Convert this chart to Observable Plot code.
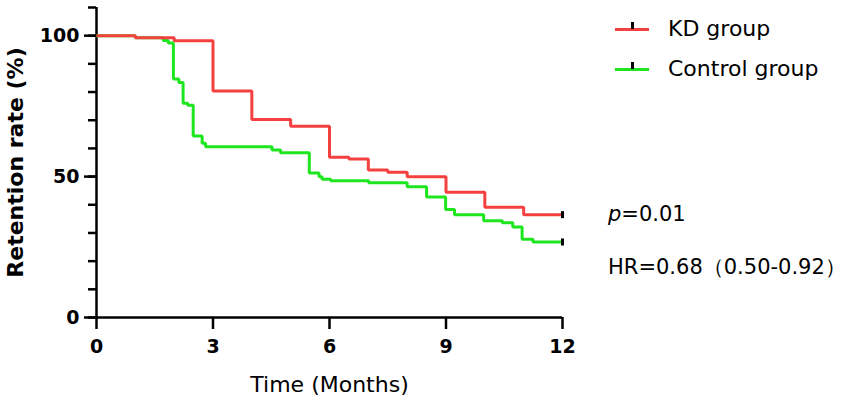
<!DOCTYPE html>
<html>
<head>
<meta charset="utf-8">
<script src="https://cdn.jsdelivr.net/npm/d3@7"></script>
<script src="https://cdn.jsdelivr.net/npm/@observablehq/plot@0.6"></script>
<style>
  html, body { margin: 0; padding: 0; background: #fff; }
  #wrap { position: relative; width: 851px; height: 407px; font-family: "DejaVu Sans", sans-serif; }
  #wrap svg { position: absolute; left: 0; top: 0; }
  g[aria-label="x-axis label"], g[aria-label="x-axis label"] text { font-weight: normal; font-size: 22px; }
  g[aria-label="y-axis label"], g[aria-label="y-axis label"] text { font-weight: bold; font-size: 22px; }
  .lg { position: absolute; left: 615px; height: 20px; display: flex; align-items: center; }
  .lg span { position: absolute; left: 53px; white-space: nowrap; font-size: 22px; color: #000; line-height: 22px; top: -1px; }
  .ann { position: absolute; left: 608px; white-space: nowrap; font-size: 21px; color: #000; line-height: 24px; }
</style>
</head>
<body>
<div id="wrap"></div>
<script>
// ---- data ----
const seriesNames = ["KD group", "Control group"];
const seriesColors = ["#f54040", "#1ee61e"];

const kdTime = [0, 1, 2, 3, 4, 5, 6, 6.5, 7, 7.5, 8, 9, 10, 11, 12];
const kdRetention = [100, 99.3, 98.2, 80.4, 70.3, 67.9, 56.9, 56.2, 52.3, 51.5, 49.9, 44.4, 39.1, 36.5, 36.5];

const ctrlTime = [0, 1, 1.72, 1.85, 1.98, 2.12, 2.23, 2.35, 2.49, 2.72, 2.81, 4.52, 4.74, 5.48, 5.73, 5.81, 6.03, 7.01, 8.0, 8.5, 8.99, 9.22, 9.97, 10.45, 10.72, 10.96, 11.24, 12];
const ctrlRetention = [100, 99.3, 98.3, 97.4, 84.6, 83.4, 76.0, 75.3, 64.4, 61.8, 60.6, 59.4, 58.5, 51.3, 49.9, 49.1, 48.5, 47.8, 46.4, 42.8, 38.3, 36.5, 34.3, 33.6, 32.1, 27.8, 26.8, 26.8];

const xTicks = [0, 3, 6, 9, 12];
const yMajorTicks = [0, 50, 100];
const yMinorTicks = [0, 10, 20, 30, 40, 50, 60, 70, 80, 90, 100, 110];
const xDomain = [0, 12];
const yDomain = [0, 110];

const pText = "=0.01";
const hrText = "HR=0.68（0.50-0.92）";

// ---- build tables ----
const kd = kdTime.map((t, i) => ({t, v: kdRetention[i]}));
const ctrl = ctrlTime.map((t, i) => ({t, v: ctrlRetention[i]}));
const censored = [kd[kd.length - 1], ctrl[ctrl.length - 1]];

const censorSymbol = {
  draw(context) {
    context.rect(-1.5, -3.5, 3, 7);
  }
};

const chart = Plot.plot({
  width: 851,
  height: 407,
  marginLeft: 96,
  marginRight: 289,
  marginTop: 7,
  marginBottom: 90,
  style: {fontFamily: "DejaVu Sans, sans-serif", background: "transparent", color: "#000"},
  x: {domain: xDomain},
  y: {domain: yDomain},
  marks: [
    Plot.axisY(yMinorTicks, {tickSize: 8, strokeWidth: 2.5, fill: "none", label: null}),
    Plot.axisY(yMajorTicks, {tickSize: 12, tickPadding: 5, strokeWidth: 2.5, fontSize: 19, fontWeight: "bold",
      label: "Retention rate (%)", labelArrow: "none", labelAnchor: "center", labelOffset: 89}),
    Plot.axisX(xTicks, {tickSize: 12, tickPadding: 10, strokeWidth: 2.5, fontSize: 19, fontWeight: "bold",
      label: "Time (Months)", labelArrow: "none", labelAnchor: "center", labelOffset: 74}),
    Plot.ruleX([xDomain[0]], {y1: yDomain[0], y2: yDomain[1], strokeWidth: 2.5}),
    Plot.ruleY([yDomain[0]], {x1: xDomain[0], x2: xDomain[1], strokeWidth: 2.5}),
    Plot.line(ctrl, {x: "t", y: "v", curve: "step-after", stroke: seriesColors[1], strokeWidth: 3, strokeLinejoin: "miter", strokeLinecap: "butt"}),
    Plot.line(kd, {x: "t", y: "v", curve: "step-after", stroke: seriesColors[0], strokeWidth: 3, strokeLinejoin: "miter", strokeLinecap: "butt"}),
    Plot.dot(censored, {x: "t", y: "v", symbol: censorSymbol, fill: "#000", stroke: "none"})
  ]
});

const wrap = document.getElementById("wrap");
wrap.appendChild(chart);

// legend
const legendTops = [19, 59];
seriesNames.forEach((name, i) => {
  const div = document.createElement("div");
  div.className = "lg";
  div.style.top = legendTops[i] + "px";
  div.innerHTML = `<svg width="34" height="20" style="display:block">
      <line x1="0" x2="34" y1="10.5" y2="10.5" stroke="${seriesColors[i]}" stroke-width="3"/>
      <rect x="16" y="3" width="3" height="7" fill="#000"/>
    </svg><span>${name}</span>`;
  wrap.appendChild(div);
});

// annotations
const p = document.createElement("div");
p.className = "ann";
p.style.top = "202px";
p.innerHTML = `<i>p</i>${pText}`;
wrap.appendChild(p);

const hr = document.createElement("div");
hr.className = "ann";
hr.style.top = "255px";
hr.textContent = hrText;
wrap.appendChild(hr);
</script>
</body>
</html>
